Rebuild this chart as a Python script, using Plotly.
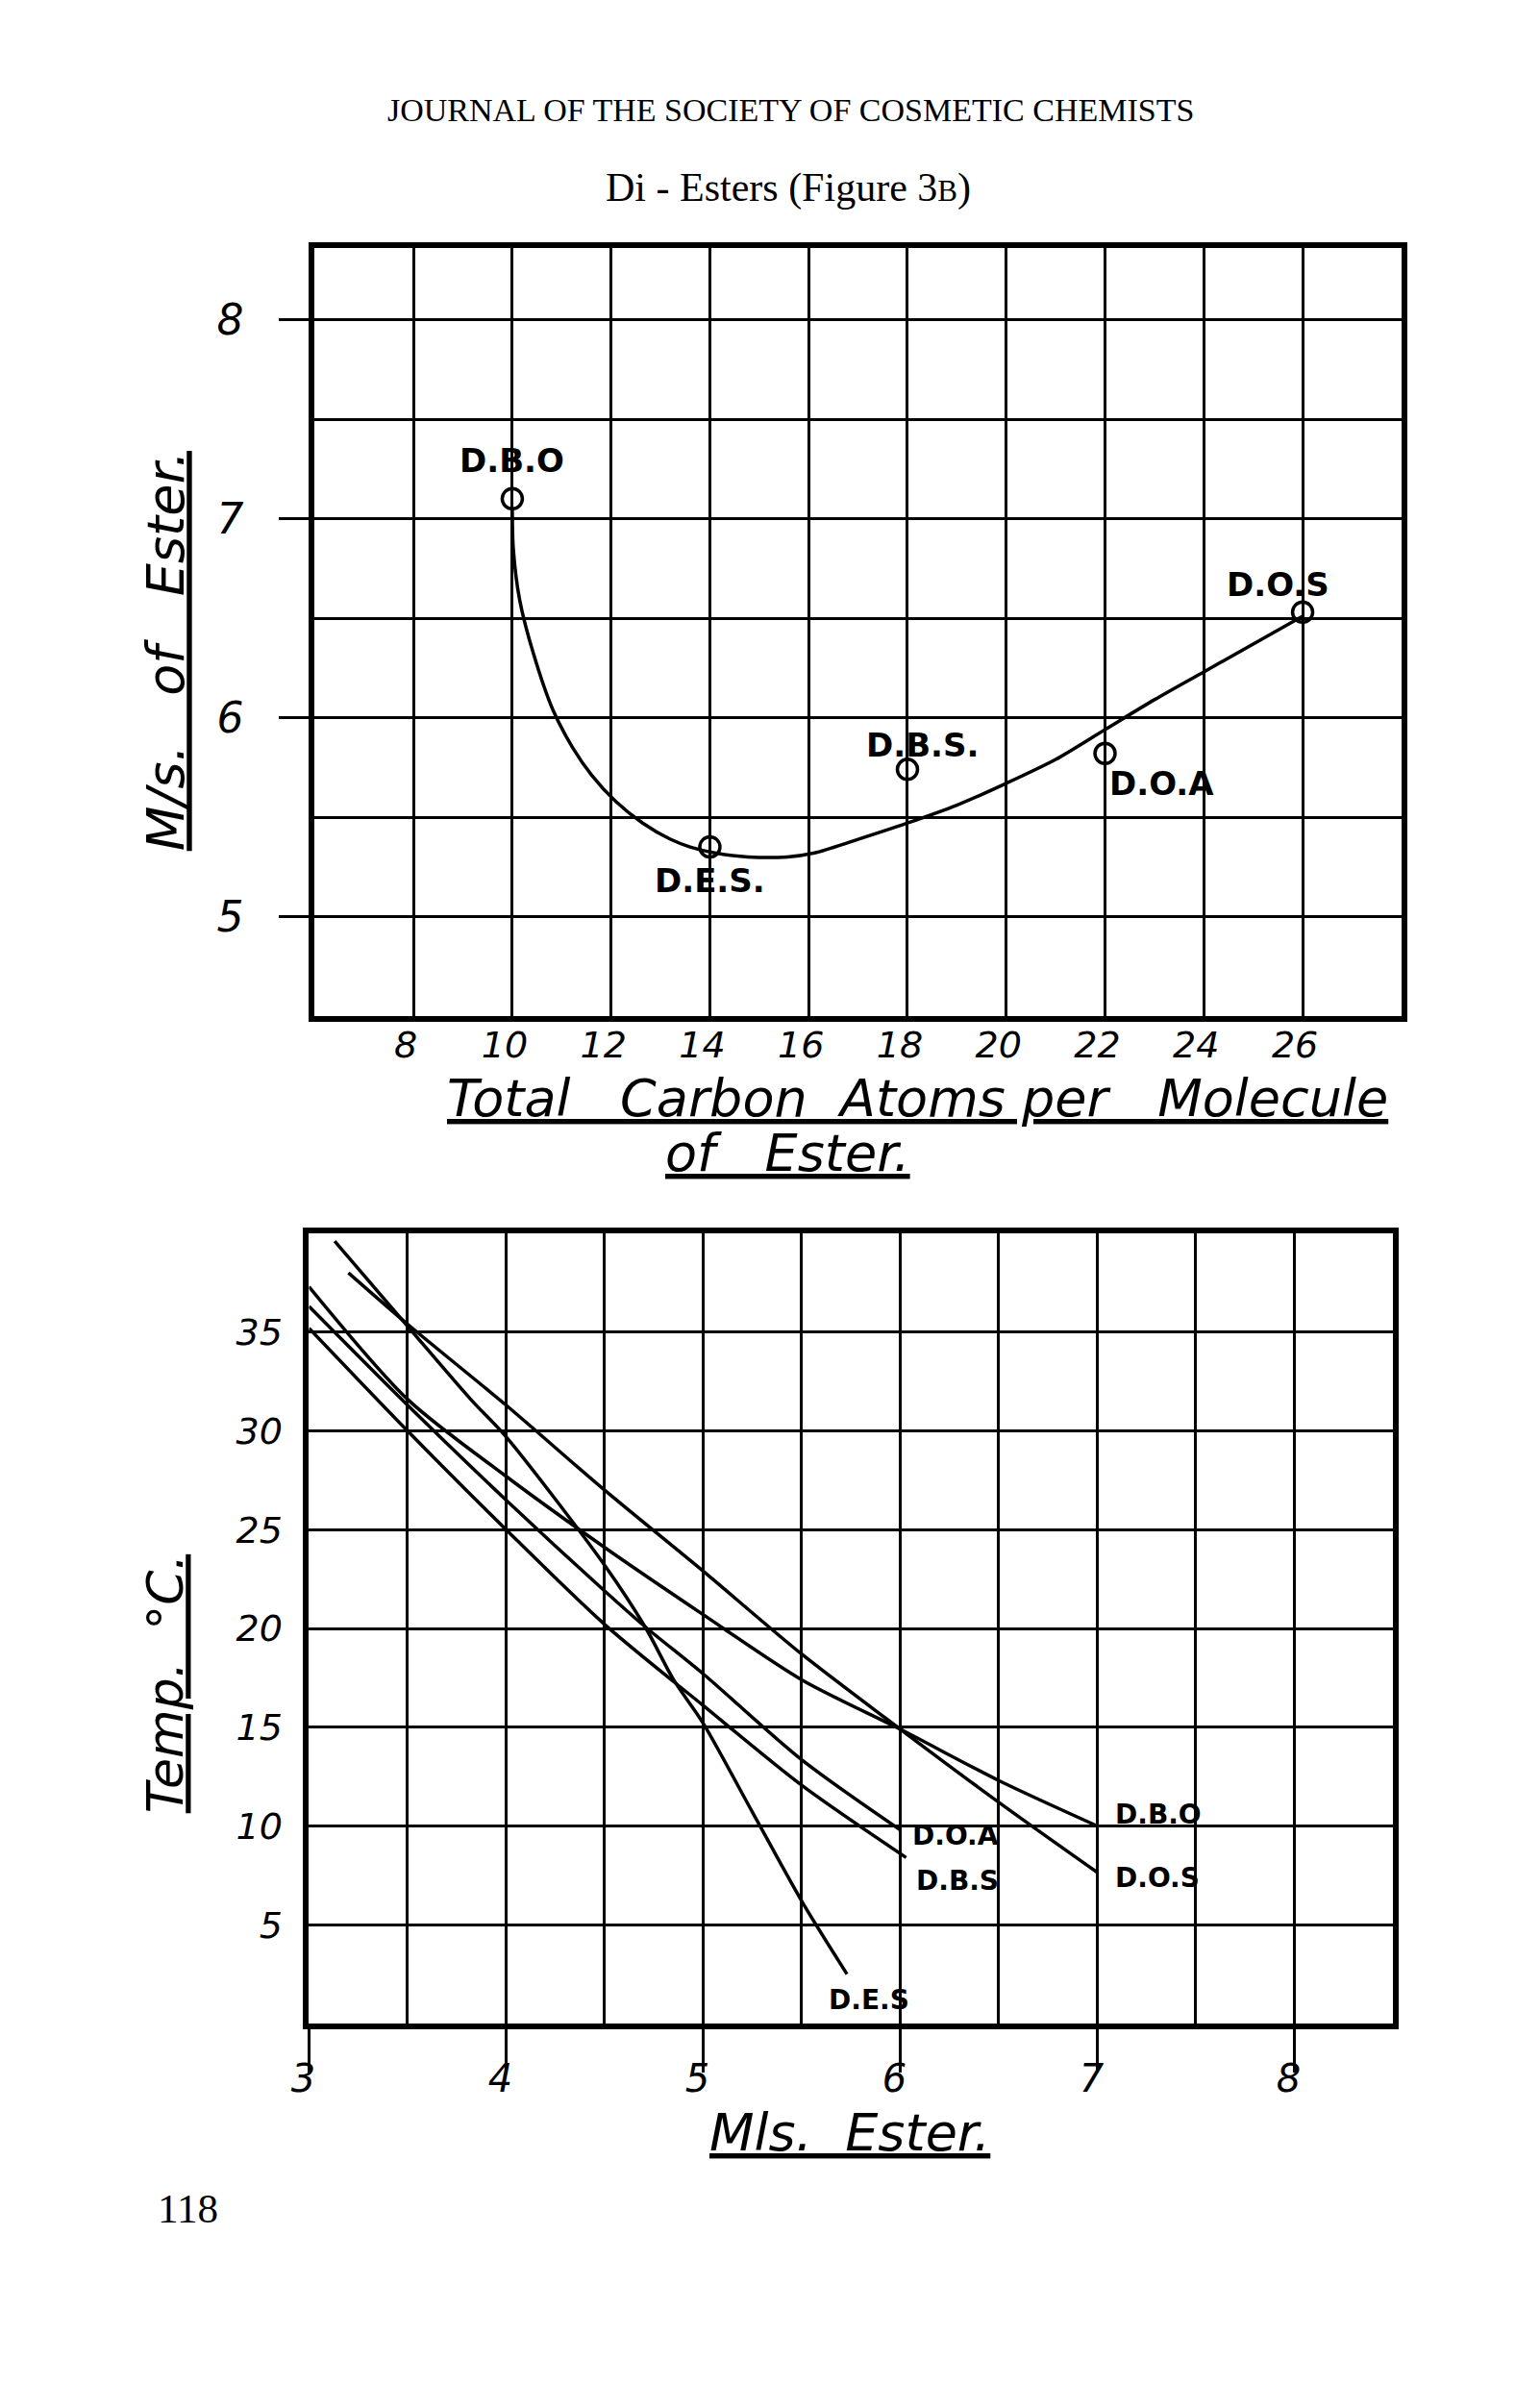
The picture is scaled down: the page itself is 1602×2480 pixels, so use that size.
import plotly.graph_objects as go

W, H = 1602, 2480

# ---------------- data: top chart (Figure 3B, upper) ----------------
carbon_atoms = [10, 14, 18, 22, 26]
mls_ester = [7.10, 5.35, 5.74, 5.82, 6.53]
ester_names_top = ["D.B.O", "D.E.S.", "D.B.S.", "D.O.A", "D.O.S"]

trend_carbon = [10.0, 10.02, 10.15, 10.43, 10.82, 11.22, 11.61, 12.09, 12.64, 13.19,
                13.6, 14.1, 14.77, 15.57, 16.12, 16.9, 18.0, 19.0, 20.0, 21.0,
                22.0, 23.0, 24.0, 25.0, 26.0]
trend_mls = [7.05, 6.85, 6.59, 6.32, 6.04, 5.85, 5.71, 5.58, 5.47, 5.39,
             5.35, 5.32, 5.30, 5.30, 5.32, 5.38, 5.47, 5.56, 5.67, 5.79,
             5.94, 6.09, 6.23, 6.37, 6.51]

top_x_ticks = [8, 10, 12, 14, 16, 18, 20, 22, 24, 26]
top_y_ticks = [5, 6, 7, 8]

# ---------------- data: bottom chart (temperature vs mls ester) ----------------
des_mls = [3.13, 3.5, 3.82, 4.0, 4.5, 4.71, 4.85, 5.0, 5.25, 5.5, 5.73]
des_temp = [39.6, 35.3, 31.6, 29.7, 23.2, 20.0, 17.4, 15.2, 10.7, 6.2, 2.5]

dos_mls = [3.2, 3.5, 4.0, 4.5, 5.0, 5.5, 6.0, 6.5, 7.0]
dos_temp = [38.0, 35.4, 31.3, 27.0, 22.9, 18.7, 14.9, 11.2, 7.65]

dbo_mls = [3.0, 3.5, 4.0, 4.5, 5.0, 5.5, 6.0, 6.5, 7.0]
dbo_temp = [37.3, 31.6, 27.7, 24.1, 20.7, 17.4, 14.9, 12.3, 10.0]

doa_mls = [3.0, 3.5, 4.0, 4.5, 4.71, 5.0, 5.5, 6.0]
doa_temp = [36.3, 31.3, 26.5, 21.9, 20.05, 17.7, 13.35, 9.8]

dbs_mls = [3.0, 3.5, 4.0, 4.5, 5.0, 5.5, 6.03]
dbs_temp = [35.2, 30.0, 25.0, 20.2, 16.1, 12.06, 8.4]

bottom_x_ticks = [3, 4, 5, 6, 7, 8]
bottom_y_ticks = [5, 10, 15, 20, 25, 30, 35]

# ---------------- figure ----------------
def PX(px):
    return px / W


def PY(py):
    return 1 - py / H


fig = go.Figure()

line_style = dict(color="black", width=3.5, shape="spline", smoothing=0.8)

fig.add_trace(go.Scatter(x=trend_carbon, y=trend_mls, mode="lines", line=line_style,
                         xaxis="x", yaxis="y", hoverinfo="skip"))
fig.add_trace(go.Scatter(x=carbon_atoms, y=mls_ester, mode="markers",
                         marker=dict(symbol="circle-open", size=21, color="black",
                                     line=dict(width=3.5, color="black")),
                         xaxis="x", yaxis="y", hoverinfo="skip"))

for xs, ys in [(des_mls, des_temp), (dos_mls, dos_temp), (dbo_mls, dbo_temp),
               (doa_mls, doa_temp), (dbs_mls, dbs_temp)]:
    fig.add_trace(go.Scatter(x=xs, y=ys, mode="lines", line=line_style,
                             xaxis="x2", yaxis="y2", hoverinfo="skip"))

hand = "DejaVu Sans"
axis_common = dict(showline=True, mirror=True, linecolor="black", linewidth=6,
                   showgrid=True, gridcolor="black", gridwidth=3, zeroline=False,
                   fixedrange=True, tickmode="array")

fig.update_layout(
    width=W, height=H, margin=dict(l=0, r=0, t=0, b=0),
    paper_bgcolor="white", plot_bgcolor="white", showlegend=False,
    xaxis=dict(domain=[PX(304), PX(1448)], range=[6, 28], anchor="y",
               tickvals=top_x_ticks, ticktext=[str(v) for v in top_x_ticks],
               ticks="", ticklabelstandoff=-9, ticklabelshift=-8,
               tickfont=dict(family=hand, size=38, color="black", style="italic"),
               **axis_common),
    yaxis=dict(domain=[PY(1049), PY(250)], range=[4.5, 8.36], anchor="x",
               tickvals=top_y_ticks, ticktext=[str(v) for v in top_y_ticks],
               ticks="outside", ticklen=31, tickwidth=3, tickcolor="black",
               ticklabelstandoff=28,
               minor=dict(tick0=4.5, dtick=0.5, showgrid=True, gridcolor="black",
                          gridwidth=3, ticks=""),
               tickfont=dict(family=hand, size=44, color="black", style="italic"),
               **axis_common),
    xaxis2=dict(domain=[PX(298), PX(1439)], range=[3, 8.5], anchor="y2",
                tickvals=bottom_x_ticks, ticktext=[str(v) for v in bottom_x_ticks],
                ticks="outside", ticklen=45, tickwidth=3, tickcolor="black",
                ticklabelstandoff=-28, ticklabelshift=-6,
                minor=dict(tick0=3, dtick=0.5, showgrid=True, gridcolor="black",
                           gridwidth=3, ticks=""),
                tickfont=dict(family=hand, size=40, color="black", style="italic"),
                **axis_common),
    yaxis2=dict(domain=[PY(2097), PY(1275)], range=[0, 40], anchor="x2",
                tickvals=bottom_y_ticks, ticktext=[str(v) for v in bottom_y_ticks],
                ticks="", ticklabelstandoff=14,
                tickfont=dict(family=hand, size=38, color="black", style="italic"),
                **axis_common),
)

ann = []


def text(x, y, s, size, family=hand, xref="paper", yref="paper", angle=0,
         xanchor="center", yanchor="middle", style="normal", weight="normal",
         under=False):
    f = dict(family=family, size=size, color="black", style=style, weight=weight)
    if under:
        f["lineposition"] = "under"
    ann.append(dict(x=x, y=y, xref=xref, yref=yref, text=s, showarrow=False,
                    textangle=angle, xanchor=xanchor, yanchor=yanchor, font=f))


NB = "\u00a0"
serif = "Liberation Serif"
text(PX(805), PY(107), "JOURNAL OF THE SOCIETY OF COSMETIC CHEMISTS", 34, family=serif)
text(PX(803), PY(187), "Di - Esters (Figure 3<span style='font-size:31px'>B</span>)", 42,
     family=serif)
text(PX(171), PY(2289), "118", 43, family=serif)

# axis titles (hand lettered, underlined)
text(PX(147), PY(669), "M/s." + NB * 3 + "of" + NB * 3 + "Ester.", 54, angle=-90,
     style="italic", under=True)
text(PX(939), PY(1134), "Total" + NB * 3 + "Carbon" + NB * 2 + "Atoms per" + NB * 3 + "Molecule",
     54, style="italic", under=True)
text(PX(802), PY(1191), "of" + NB * 3 + "Ester.", 54, style="italic", under=True)
text(PX(147), PY(1744), "Temp." + NB * 2 + "°C.", 52, angle=-90, style="italic", under=True)
text(PX(867), PY(2210), "Mls." + NB * 2 + "Ester.", 54, style="italic", under=True)

# point labels, top chart (offsets from each point)
top_label_offsets = [(0.0, 0.19), (0.0, -0.17), (0.3, 0.12), (1.15, -0.15), (-0.5, 0.14)]
for name, cx, my, (dx, dy) in zip(ester_names_top, carbon_atoms, mls_ester, top_label_offsets):
    text(cx + dx, my + dy, name, 34, xref="x", yref="y", weight="bold")

# line labels, bottom chart (placed at each curve's end)
bottom_labels = [("D.E.S", des_mls, des_temp, 0.11, -1.3, "center"),
                 ("D.O.A", doa_mls, doa_temp, 0.05, -0.3, "left"),
                 ("D.B.S", dbs_mls, dbs_temp, 0.04, -1.15, "left"),
                 ("D.B.O", dbo_mls, dbo_temp, 0.08, 0.6, "left"),
                 ("D.O.S", dos_mls, dos_temp, 0.08, -0.3, "left")]
for name, xs, ys, dx, dy, anc in bottom_labels:
    text(xs[-1] + dx, ys[-1] + dy, name, 28, xref="x2", yref="y2", xanchor=anc,
         weight="bold")

fig.update_layout(annotations=ann)
fig.write_html("out.html")
